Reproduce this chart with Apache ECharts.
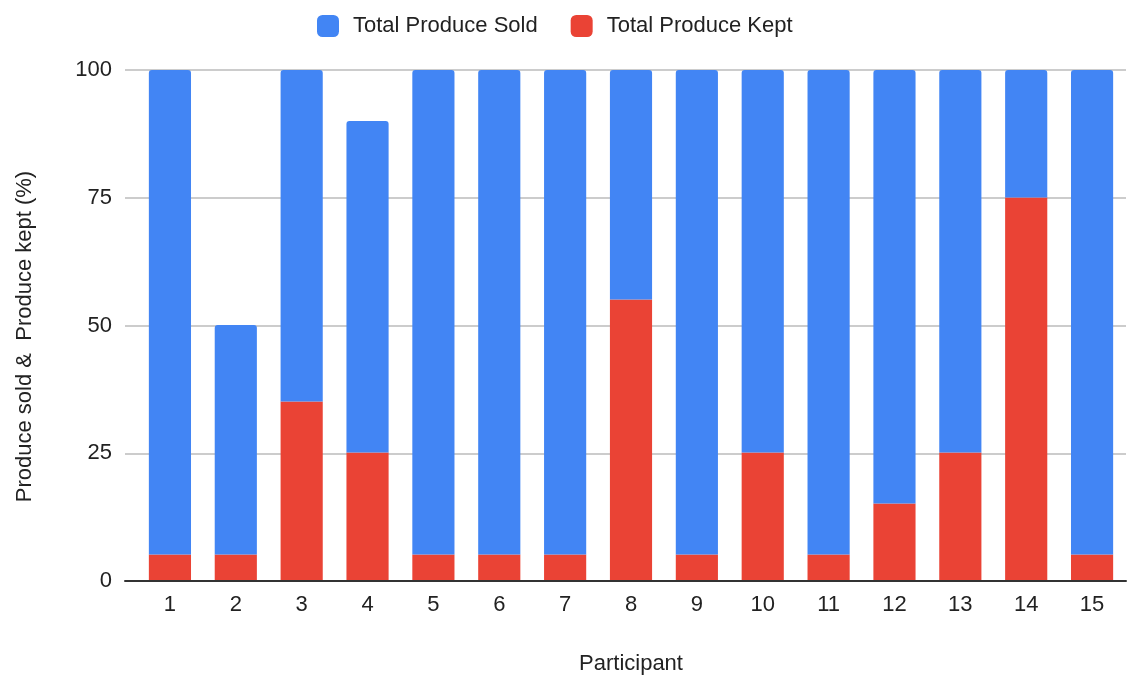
<!DOCTYPE html>
<html>
<head>
<meta charset="utf-8">
<script src="https://cdn.jsdelivr.net/npm/echarts@6/dist/echarts.min.js"></script>
<style>
  html, body { margin: 0; padding: 0; background: #fff; }
  #chart { width: 1132px; height: 680px; }
</style>
</head>
<body>
<div id="chart"></div>
<script>
// Participants on the x axis
const participants = ['1', '2', '3', '4', '5', '6', '7', '8', '9', '10', '11', '12', '13', '14', '15'];
// Share of produce kept (bottom segment, %)
const producedKept = [5, 5, 35, 25, 5, 5, 5, 55, 5, 25, 5, 15, 25, 75, 5];
// Share of produce sold (stacked on top, %)
const producedSold = [95, 45, 66, 65, 95, 95, 95, 46, 95, 75, 95, 85, 75, 25, 95];
// Value axis ticks
const yTicks = [0, 25, 50, 75, 100];

const font = 'Liberation Sans, Arial, sans-serif';
const textColor = '#222';
const yMin = yTicks[0];
const yMax = yTicks[yTicks.length - 1];
const yStep = yTicks[1] - yTicks[0];

const chart = echarts.init(document.getElementById('chart'), null, { renderer: 'canvas' });

chart.setOption({
  animation: false,
  textStyle: { fontFamily: font },
  legend: {
    top: 10,
    left: 312,
    itemWidth: 22,
    itemHeight: 22,
    itemGap: 33,
    icon: 'roundRect',
    textStyle: { fontSize: 22, color: textColor, fontFamily: font, padding: [0, 0, 0, 9] },
    data: ['Total Produce Sold', 'Total Produce Kept']
  },
  // grid 0 holds the bars; grid 1 is a slightly wider frame for gridlines and baseline
  grid: [
    { left: 137, right: 7, top: 70, bottom: 99 },
    { left: 125, right: 6, top: 70, bottom: 99 }
  ],
  xAxis: [
    {
      type: 'category',
      gridIndex: 0,
      data: participants,
      name: 'Participant',
      nameLocation: 'middle',
      nameGap: 73,
      nameTextStyle: { fontSize: 22, color: textColor, fontFamily: font },
      axisLine: { show: false },
      axisTick: { show: false },
      axisLabel: { fontSize: 22, color: textColor, margin: 14, fontFamily: font }
    },
    {
      type: 'value',
      gridIndex: 1,
      min: 0,
      max: 1,
      axisLine: { show: true, lineStyle: { color: '#333', width: 2 } },
      axisTick: { show: false },
      axisLabel: { show: false },
      splitLine: { show: false }
    }
  ],
  yAxis: [
    {
      type: 'value',
      gridIndex: 0,
      min: yMin,
      max: yMax,
      interval: yStep,
      axisLine: { show: false },
      axisTick: { show: false },
      axisLabel: { show: false },
      splitLine: { show: false }
    },
    {
      type: 'value',
      gridIndex: 1,
      min: yMin,
      max: yMax,
      interval: yStep,
      name: 'Produce sold &  Produce kept (%)',
      nameLocation: 'middle',
      nameGap: 89,
      nameTextStyle: { fontSize: 22, color: textColor, fontFamily: font, padding: [0, 22, 0, 0] },
      axisLine: { show: false },
      axisTick: { show: false },
      splitLine: { lineStyle: { color: '#cccccc', width: 2 } },
      axisLabel: { fontSize: 22, color: textColor, margin: 13, fontFamily: font }
    }
  ],
  series: [
    {
      name: 'Total Produce Kept',
      type: 'bar',
      xAxisIndex: 0,
      yAxisIndex: 0,
      stack: 'total',
      data: producedKept,
      barCategoryGap: '36%',
      z: 3,
      itemStyle: { color: '#EA4335' }
    },
    {
      name: 'Total Produce Sold',
      type: 'bar',
      xAxisIndex: 0,
      yAxisIndex: 0,
      stack: 'total',
      data: producedSold,
      barCategoryGap: '36%',
      z: 3,
      itemStyle: { color: '#4285F4', borderRadius: [3, 3, 0, 0] }
    }
  ]
});
</script>
</body>
</html>
